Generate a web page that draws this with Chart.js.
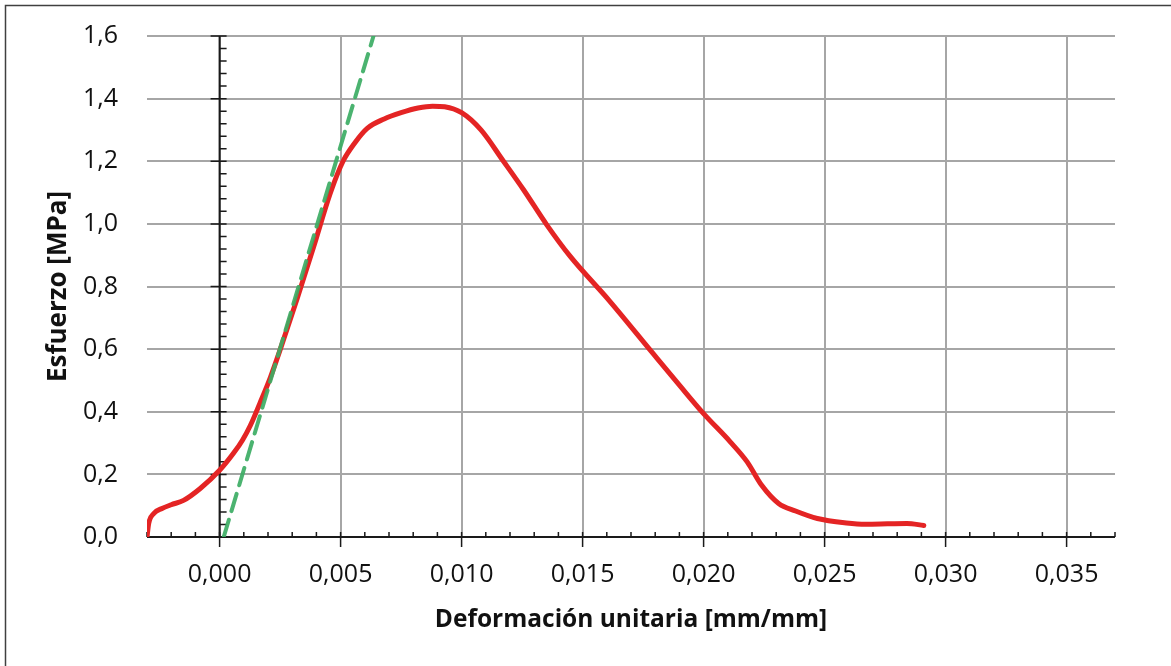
<!DOCTYPE html>
<html>
<head>
<meta charset="utf-8">
<script src="https://cdn.jsdelivr.net/npm/chart.js@4.4.1/dist/chart.umd.min.js"></script>
<style>
  body { margin: 0; background: #fff; }
  #wrap { width: 1171px; height: 666px; position: relative; }
</style>
</head>
<body>
<div id="wrap"><canvas id="chart"></canvas></div>
<script>
// data
const strain = [-0.0030, -0.00293, -0.00272, -0.00238, -0.0020, -0.00149, -0.0008, 0.0, 0.00058, 0.00095,
                0.00127, 0.00168, 0.0021, 0.00251, 0.0032, 0.00388, 0.00457, 0.0051, 0.0056, 0.0061,
                0.0068, 0.0075, 0.0082, 0.0088, 0.0093, 0.0100, 0.0108, 0.01173, 0.01256, 0.01352,
                0.01449, 0.0161, 0.0179, 0.0190, 0.0200, 0.0211, 0.0218, 0.0224, 0.0231, 0.0238,
                0.0247, 0.0259, 0.0267, 0.0276, 0.0284, 0.0291];
const stress = [0.0, 0.043, 0.075, 0.091, 0.103, 0.117, 0.155, 0.213, 0.268, 0.310,
                0.356, 0.430, 0.51, 0.60, 0.76, 0.925, 1.097, 1.20, 1.26, 1.305,
                1.335, 1.355, 1.370, 1.376, 1.374, 1.355, 1.300, 1.200, 1.109, 0.997,
                0.896, 0.755, 0.587, 0.485, 0.394, 0.304, 0.240, 0.165, 0.107, 0.083,
                0.059, 0.045, 0.041, 0.042, 0.043, 0.037];

// elastic (tangent) line
const tangentStrain = [0.00017, 0.00636];
const tangentStress = [0.0, 1.6];

// axis ticks
const xTicks = [0.000, 0.005, 0.010, 0.015, 0.020, 0.025, 0.030, 0.035];
const yTicks = [0.0, 0.2, 0.4, 0.6, 0.8, 1.0, 1.2, 1.4, 1.6];

const toPoints = (xs, ys) => xs.map((x, i) => ({x: x, y: ys[i]}));
const comma = (v, d) => v.toFixed(d).replace('.', ',');

//plugins
const background = {
    id: 'background',
    beforeDraw(chart) {
        const ctx = chart.ctx;
        ctx.save();
        ctx.fillStyle = '#fff';
        ctx.fillRect(0, 0, chart.width, chart.height);
        // frame of the chart object (cut at right and bottom)
        ctx.strokeStyle = '#404040';
        ctx.lineWidth = 1.5;
        ctx.beginPath();
        ctx.moveTo(5.5, chart.height);
        ctx.lineTo(5.5, 5.5);
        ctx.lineTo(chart.width, 5.5);
        ctx.stroke();
        ctx.restore();
    }
};

// axes crossing at zero, with major (cross) and minor (inside) tick marks
const crossAxes = {
    id: 'crossAxes',
    beforeDatasetsDraw(chart) {
        const {ctx, chartArea, scales: {x, y}} = chart;
        const x0 = x.getPixelForValue(0);
        const y0 = y.getPixelForValue(0);
        ctx.save();
        ctx.strokeStyle = '#1a1a1a';
        ctx.lineWidth = 2;
        ctx.beginPath();
        ctx.moveTo(x0, chartArea.top);
        ctx.lineTo(x0, chartArea.bottom);
        ctx.moveTo(chartArea.left, y0);
        ctx.lineTo(chartArea.right, y0);
        ctx.stroke();

        ctx.lineWidth = 1.5;
        ctx.beginPath();
        for (let k = -3; k <= 37; k++) {
            const px = x.getPixelForValue(k / 1000);
            ctx.moveTo(px, y0 - 5);
            ctx.lineTo(px, k % 5 === 0 ? y0 + 10 : y0);
        }
        for (let k = 0; k <= 40; k++) {
            const py = y.getPixelForValue(k * 0.04);
            ctx.moveTo(x0 + 7, py);
            ctx.lineTo(k % 5 === 0 ? x0 - 9 : x0, py);
        }
        ctx.stroke();
        ctx.restore();
    }
};

const ctx = document.querySelector('#chart').getContext('2d');
const chartobj = new Chart(ctx, {
    type: 'scatter',
    data: {
        datasets: [
            {
                label: 'Curva',
                data: toPoints(strain, stress),
                showLine: true,
                borderColor: '#e42424',
                borderWidth: 5,
                pointRadius: 0,
                cubicInterpolationMode: 'monotone',
                borderCapStyle: 'round',
                order: 2
            },
            {
                label: 'Tangente',
                data: toPoints(tangentStrain, tangentStress),
                showLine: true,
                borderColor: 'rgba(60,172,100,0.92)',
                borderWidth: 4,
                borderDash: [18, 9],
                borderCapStyle: 'round',
                pointRadius: 0,
                order: 1
            }
        ]
    },
    options: {
        responsive: true,
        maintainAspectRatio: false,
        animation: false,
        layout: {padding: {left: 0, right: 56, top: 36, bottom: 0}},
        plugins: {
            legend: {display: false},
            tooltip: {enabled: false}
        },
        scales: {
            x: {
                type: 'linear',
                min: -0.003,
                max: 0.037,
                afterBuildTicks: (scale) => { scale.ticks = xTicks.map(v => ({value: v})); },
                afterFit: (scale) => { scale.height = 129; },
                border: {display: false},
                grid: {color: '#a6a6a6', lineWidth: 2, drawTicks: false},
                ticks: {
                    padding: 23,
                    color: '#111',
                    font: {family: 'Open Sans', size: 25},
                    callback: (v) => comma(v, 3)
                },
                title: {
                    display: true,
                    text: 'Deformación unitaria [mm/mm]',
                    color: '#111',
                    font: {family: 'Open Sans', size: 24.5, weight: 'bold'},
                    padding: {top: 0, bottom: 31}
                }
            },
            y: {
                type: 'linear',
                min: 0,
                max: 1.6,
                afterBuildTicks: (scale) => { scale.ticks = yTicks.map(v => ({value: v})); },
                afterFit: (scale) => {
                    scale.width = 147;
                    scale.paddingTop = 0;
                    scale.paddingBottom = 0;
                },
                border: {display: false},
                grid: {color: '#a6a6a6', lineWidth: 2, drawTicks: false},
                ticks: {
                    padding: 29,
                    color: '#111',
                    font: {family: 'Open Sans', size: 25},
                    callback: (v) => comma(v, 1)
                },
                title: {
                    display: true,
                    text: 'Esfuerzo [MPa]',
                    color: '#111',
                    font: {family: 'Open Sans', size: 26, weight: 'bold'},
                    padding: {top: 43, bottom: 0}
                }
            }
        }
    },
    plugins: [background, crossAxes]
});
</script>
</body>
</html>
